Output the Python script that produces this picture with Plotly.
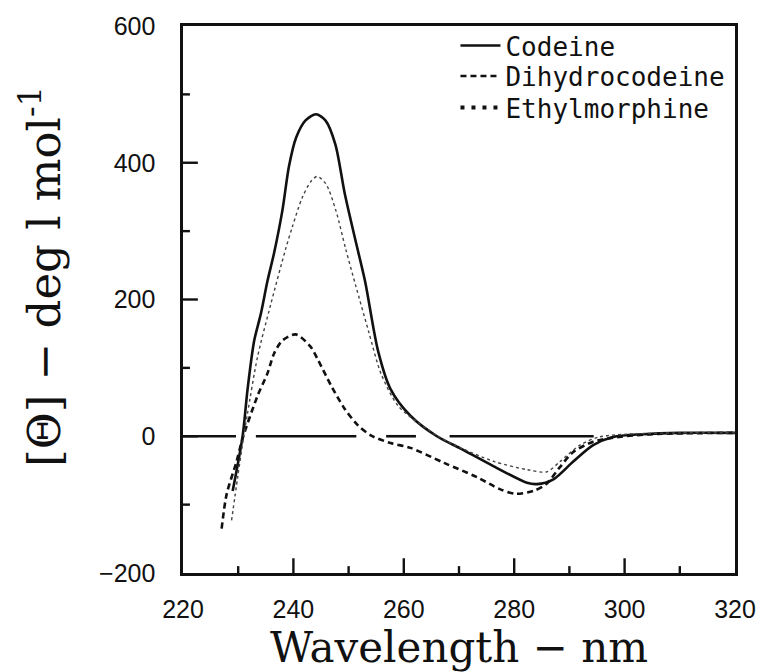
import plotly.graph_objects as go

# ---- data ----
wl_codeine = [229.0, 230.8, 231.7, 232.9, 234.1, 235.3, 236.5, 238.0, 239.2, 240.5, 242.2, 244.1,
              245.8, 247.6, 249.3, 251.2, 253.0, 255.3, 257.6, 261.2, 266.0, 270.3, 276.3, 282.3,
              284.1, 287.1, 290.7, 294.3, 297.9, 303.3, 310.0, 320.0]
cd_codeine = [-80, 0, 69, 140, 179, 227, 268, 330, 395, 437, 462, 471,
              462, 427, 355, 288, 226, 126, 69, 30, 0, -18, -44, -68,
              -70, -63, -37, -13, -1, 3, 5, 5]

wl_dihydro = [227.0, 227.9, 229.7, 230.8, 233.5, 235.3, 236.5, 238.0, 240.4, 243.1, 244.5, 246.9,
              249.3, 251.7, 254.1, 257.6, 261.2, 267.3, 273.3, 277.3, 280.1, 283.5, 285.8, 288.2,
              290.7, 294.3, 297.9, 305.0, 320.0]
cd_dihydro = [-135, -85, -37, -3, 59, 92, 121, 140, 149, 131, 111, 73,
              40, 16, 1, -10, -17, -39, -60, -77, -84, -80, -70, -46,
              -23, -8, -2, 3, 5]

wl_ethyl = [228.8, 229.9, 231.0, 231.7, 233.5, 235.9, 238.6, 239.8, 241.6, 243.2, 244.3, 245.9,
            247.7, 249.5, 251.3, 253.6, 255.9, 259.0, 262.6, 266.2, 269.2, 276.4, 282.4, 285.9,
            288.3, 291.9, 295.4, 300.4, 310.0, 320.0]
cd_ethyl = [-123, -60, 0, 34, 116, 193, 274, 306, 349, 373, 380, 369,
            330, 273, 220, 154, 91, 44, 20, 0, -13, -37, -49, -52,
            -37, -13, -1, 3, 5, 5]

# broken zero baseline
zero_x = [220, 229.6, None, 233.2, 251.4, None, 256.8, 262.2, None, 268.3, 294.4]
zero_y = [0, 0, None, 0, 0, None, 0, 0, None, 0, 0]

names = ["Codeine", "Dihydrocodeine", "Ethylmorphine"]
x_range = [220, 320]
y_range = [-200, 600]
x_major = [240, 260, 280, 300]
x_minor = [230, 250, 270, 290, 310]
y_major = [0, 200, 400]
y_minor = [-100, 100, 300, 500]

INK = "#111"
PLOT_W, PLOT_H = 557, 557
MAJOR_PX, MINOR_PX = 15, 7
x_per_px = (x_range[1] - x_range[0]) / PLOT_W
y_per_px = (y_range[1] - y_range[0]) / PLOT_H

fig = go.Figure()

fig.add_trace(go.Scatter(x=zero_x, y=zero_y, mode="lines", showlegend=False,
                         line=dict(color=INK, width=2.6), hoverinfo="skip"))
fig.add_trace(go.Scatter(x=wl_codeine, y=cd_codeine, mode="lines", name=names[0], legend="legend",
                         line=dict(color=INK, width=2.6, shape="spline", smoothing=0.8)))
fig.add_trace(go.Scatter(x=wl_dihydro, y=cd_dihydro, mode="lines", name=names[1], legend="legend2",
                         line=dict(color=INK, width=2.6, dash="6px,4px", shape="spline", smoothing=0.8)))
fig.add_trace(go.Scatter(x=wl_ethyl, y=cd_ethyl, mode="lines", name=names[2], showlegend=False,
                         line=dict(color="#444", width=1.4, dash="dot", shape="spline", smoothing=0.8)))
# legend key for the dotted curve (heavy dots like the printed key)
fig.add_trace(go.Scatter(x=[None], y=[None], mode="lines", name=names[2], legend="legend3",
                         line=dict(color=INK, width=4, dash="4px,7px")))

# inside tick marks, built from the tick lists
tx, ty = [], []
for v, ln in [(v, MAJOR_PX) for v in x_major] + [(v, MINOR_PX) for v in x_minor]:
    tx += [v, v, None]
    ty += [y_range[0], y_range[0] + ln * y_per_px, None]
for v, ln in [(v, MAJOR_PX) for v in y_major] + [(v, MINOR_PX) for v in y_minor]:
    tx += [x_range[0], x_range[0] + ln * x_per_px, None]
    ty += [v, v, None]
fig.add_trace(go.Scatter(x=tx, y=ty, mode="lines", showlegend=False, hoverinfo="skip",
                         line=dict(color=INK, width=2.4)))

tickfont = dict(family="Liberation Sans, Arial", size=25, color=INK)

fig.update_layout(
    width=768, height=672,
    margin=dict(l=183, r=28, t=23, b=92),
    paper_bgcolor="white", plot_bgcolor="white",
    xaxis=dict(range=x_range, tickmode="linear", tick0=220, dtick=20,
               showgrid=False, zeroline=False, showline=True, linecolor=INK, linewidth=2.6,
               mirror=True, ticks="", tickfont=tickfont, ticklabelstandoff=12,
               title=dict(text="Wavelength \u2212 nm",
                          font=dict(family="DejaVu Serif", size=42, color=INK), standoff=8)),
    yaxis=dict(range=y_range, tickmode="linear", tick0=-200, dtick=200,
               showgrid=False, zeroline=False, showline=True, linecolor=INK, linewidth=2.6,
               mirror=True, ticks="", tickfont=tickfont, ticklabelstandoff=20),
    annotations=[dict(text="[\u0398] \u2212 deg l mol<sup>-1</sup>", textangle=-90,
                      xref="paper", yref="paper", x=(40 - 183) / PLOT_W, y=(580 - 278) / PLOT_H,
                      xanchor="center", yanchor="middle", showarrow=False,
                      font=dict(family="DejaVu Serif", size=45, color=INK))],
)

leg_font = dict(family="DejaVu Sans Mono", size=26, color=INK)
common_leg = dict(x=0.4936, xanchor="left", yanchor="middle", bgcolor="rgba(0,0,0,0)",
                  font=leg_font, itemwidth=40)
fig.update_layout(
    legend=dict(y=1 - (43 - 23) / PLOT_H, **common_leg),
    legend2=dict(y=1 - (74 - 23) / PLOT_H, **common_leg),
    legend3=dict(y=1 - (106 - 23) / PLOT_H, **common_leg),
)

fig.write_html("out.html", config={"staticPlot": True})
